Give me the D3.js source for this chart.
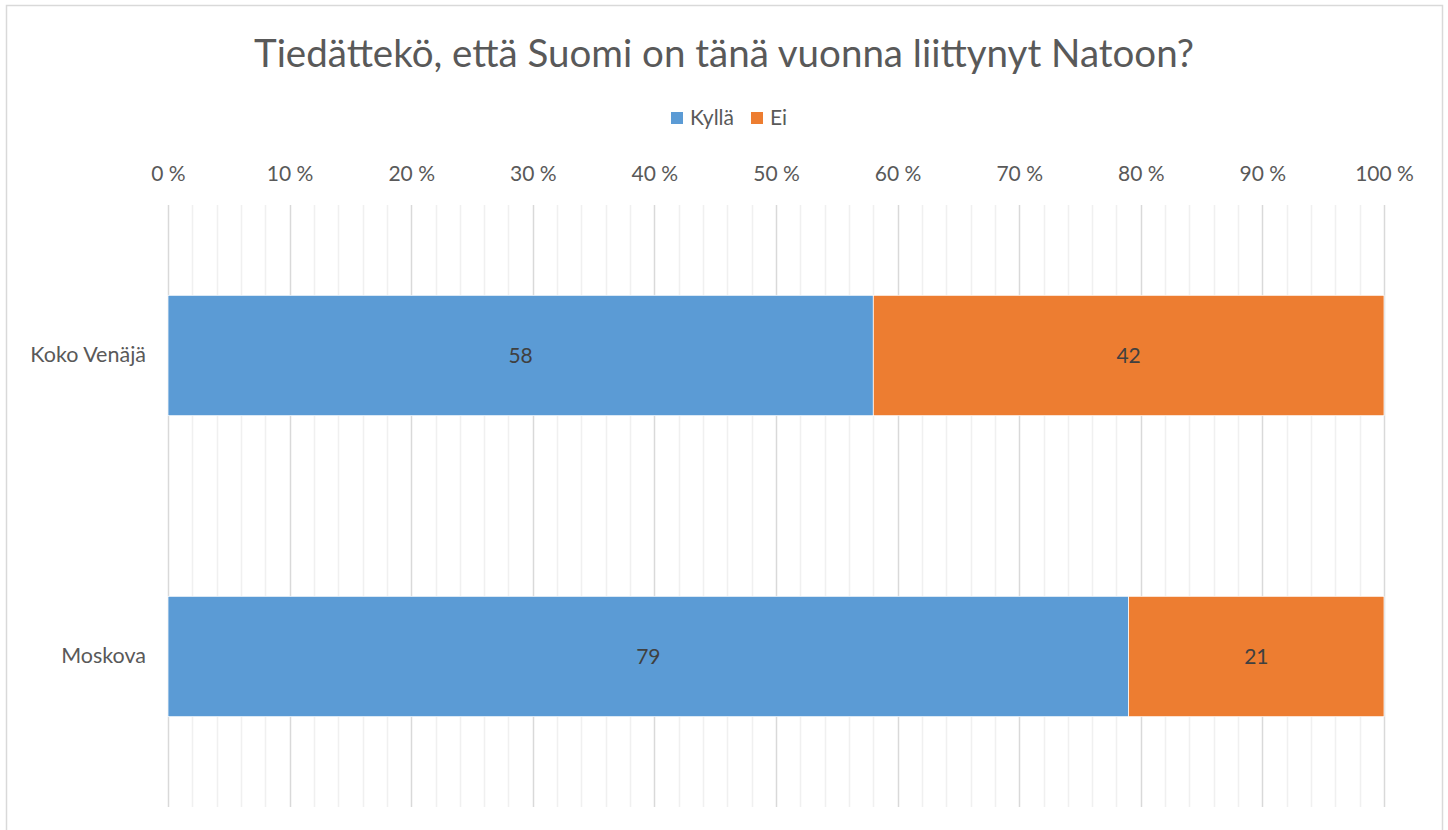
<!DOCTYPE html>
<html>
<head>
<meta charset="utf-8">
<script src="https://cdn.jsdelivr.net/npm/d3@7"></script>
<style>
  body { margin: 0; background: #fff; }
  svg { display: block; font-family: Lato, "Open Sans", sans-serif; }
</style>
</head>
<body>
<div id="chart"></div>
<script>
// DATA ###################################################
const title = "Tiedättekö, että Suomi on tänä vuonna liittynyt Natoon?";
const categories = ["Koko Venäjä", "Moskova"];
const seriesNames = ["Kyllä", "Ei"];
const kylla = [58, 79];
const ei = [42, 21];
const tickValues = [0, 10, 20, 30, 40, 50, 60, 70, 80, 90, 100];

const colors = ["#5B9BD5", "#ED7D31"];

// CONSTANTS ##############################################
const width = 1448;
const height = 830;
const plotLeft = 168, plotRight = 1384;
const plotTop = 205, plotBottom = 807;
const fontSize = "21px";

const svg = d3.select("#chart")
  .append("svg")
  .attr("width", width)
  .attr("height", height);

// chart frame
svg.append("rect")
  .attr("x", 6.5).attr("y", 5.5)
  .attr("width", 1436).attr("height", 840)
  .attr("fill", "none")
  .attr("stroke", "#d9d9d9")
  .attr("stroke-width", 1.5);

// SCALES =================================================
const xScale = d3.scaleLinear()
  .domain([0, 100])
  .range([plotLeft, plotRight]);

const yScale = d3.scaleBand()
  .domain(categories)
  .range([plotTop, plotBottom])
  .paddingInner(0.6)
  .paddingOuter(0.3);

// GRIDLINES ----------------------------------------------
const minorTicks = d3.range(0, 101, 2).filter(v => v % 10 !== 0);
svg.append("g")
  .selectAll("line")
  .data(minorTicks)
  .join("line")
    .attr("x1", d => Math.round(xScale(d)) + 0.5)
    .attr("x2", d => Math.round(xScale(d)) + 0.5)
    .attr("y1", plotTop)
    .attr("y2", plotBottom)
    .attr("stroke", "#f0f0f0")
    .attr("stroke-width", 1.5);

svg.append("g")
  .selectAll("line")
  .data(tickValues)
  .join("line")
    .attr("x1", d => Math.round(xScale(d)) + 0.5)
    .attr("x2", d => Math.round(xScale(d)) + 0.5)
    .attr("y1", plotTop)
    .attr("y2", plotBottom)
    .attr("stroke", "#d9d9d9")
    .attr("stroke-width", 1.5);

// X AXIS (top) -------------------------------------------
const xAxis = svg.append("g")
  .attr("transform", `translate(0,${plotTop - 24})`)
  .call(d3.axisTop(xScale)
    .tickValues(tickValues)
    .tickSize(0)
    .tickPadding(0)
    .tickFormat(d => d + " %"));
xAxis.select(".domain").remove();
xAxis.selectAll("text")
  .style("font-family", "Lato, sans-serif")
  .style("font-size", fontSize)
  .attr("fill", "#595959");

// Y AXIS -------------------------------------------------
const yAxis = svg.append("g")
  .attr("transform", `translate(${plotLeft - 22},0)`)
  .call(d3.axisLeft(yScale).tickSize(0).tickPadding(0));
yAxis.select(".domain").remove();
yAxis.selectAll("text")
  .style("font-family", "Lato, sans-serif")
  .style("font-size", "21.5px")
  .attr("fill", "#595959");

// BARS ===================================================
const stackData = categories.map((c, i) => ({ cat: c, Kyllä: kylla[i], Ei: ei[i] }));
const stacked = d3.stack().keys(seriesNames)(stackData);

const layers = svg.append("g")
  .selectAll("g")
  .data(stacked)
  .join("g")
    .attr("fill", (d, i) => colors[i]);

layers.selectAll("rect")
  .data(d => d)
  .join("rect")
    .attr("x", d => xScale(d[0]))
    .attr("y", d => yScale(d.data.cat))
    .attr("width", d => xScale(d[1]) - xScale(d[0]))
    .attr("height", yScale.bandwidth())
    .attr("stroke", "#ffffff")
    .attr("stroke-width", 0.75);

layers.selectAll("text")
  .data(d => d)
  .join("text")
    .attr("x", d => (xScale(d[0]) + xScale(d[1])) / 2)
    .attr("y", d => yScale(d.data.cat) + yScale.bandwidth() / 2)
    .attr("dy", "0.35em")
    .attr("text-anchor", "middle")
    .attr("fill", "#404040")
    .style("font-size", fontSize)
    .text(d => d[1] - d[0]);

// TITLE --------------------------------------------------
svg.append("text")
  .attr("x", 724)
  .attr("y", 67)
  .attr("text-anchor", "middle")
  .attr("fill", "#595959")
  .style("font-size", "38.5px")
  .text(title);

// LEGEND -------------------------------------------------
const legend = svg.append("g").attr("transform", "translate(671,112)");
const legendX = [0, 80];
seriesNames.forEach((name, i) => {
  const g = legend.append("g").attr("transform", `translate(${legendX[i]},0)`);
  g.append("rect")
    .attr("width", 12).attr("height", 12)
    .attr("fill", colors[i]);
  g.append("text")
    .attr("x", 19).attr("y", 6)
    .attr("dy", "0.35em")
    .attr("fill", "#595959")
    .style("font-size", fontSize)
    .text(name);
});
</script>
</body>
</html>
